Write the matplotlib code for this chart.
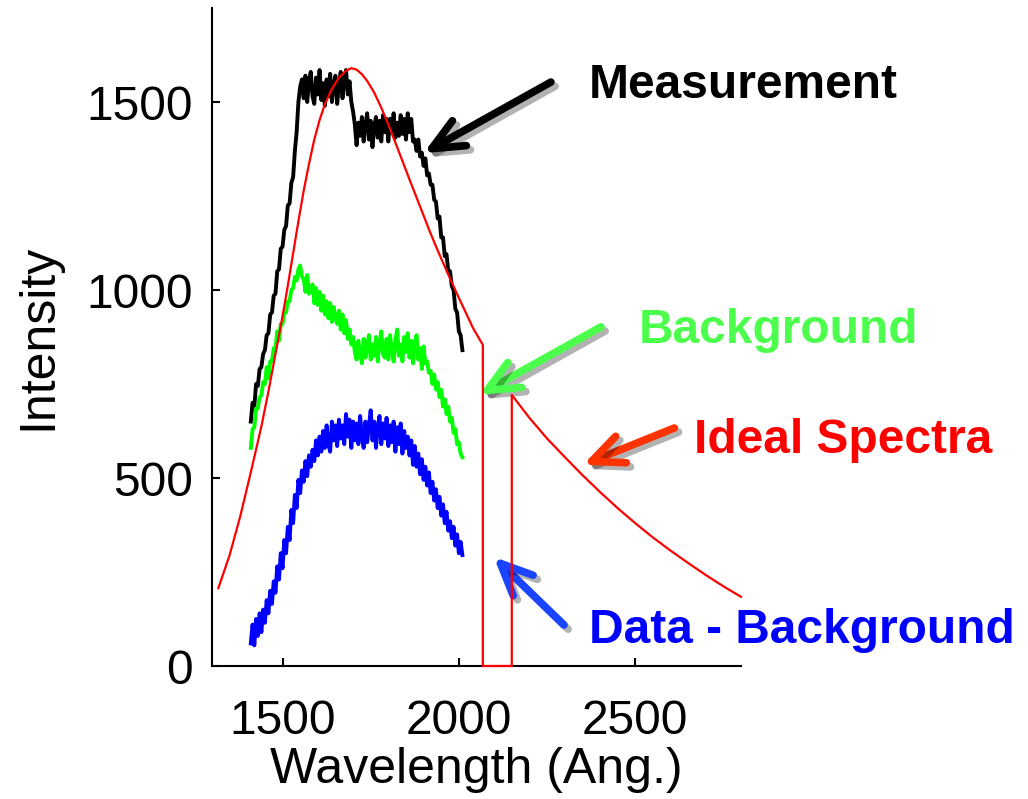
import numpy as np
import matplotlib
matplotlib.use("Agg")
import matplotlib.pyplot as plt
import matplotlib.patheffects as pe

plt.rcParams['font.family'] = ['Liberation Sans', 'DejaVu Sans']

# ---------------- data ----------------
wl_start = 1410
wl_step = 5

measurement = [
    650, 700, 690, 750, 745, 790, 795, 830, 840, 880,
    885, 935, 940, 985, 990, 1050, 1055, 1110, 1115, 1160,
    1170, 1225, 1230, 1285, 1300, 1370, 1420, 1500, 1540, 1560,
    1510, 1570, 1500, 1555, 1580, 1515, 1495, 1565, 1520, 1585,
    1505, 1550, 1490, 1560, 1515, 1575, 1500, 1545, 1570, 1495,
    1550, 1580, 1510, 1560, 1585, 1520, 1555, 1500, 1475, 1440,
    1385, 1445, 1410, 1460, 1395, 1440, 1470, 1400, 1450, 1380,
    1435, 1460, 1405, 1450, 1395, 1465, 1420, 1455, 1395, 1455,
    1420, 1470, 1405, 1445, 1410, 1465, 1415, 1455, 1400, 1470,
    1420, 1455, 1395, 1400, 1370, 1400, 1355, 1365, 1330, 1350,
    1305, 1310, 1280, 1280, 1240, 1235, 1190, 1195, 1140, 1140,
    1090, 1095, 1050, 1050, 1010, 1000, 950, 940, 890, 880,
    840,
]

background = [
    580, 630, 635, 685, 685, 715, 720, 755, 750, 795,
    765, 810, 810, 845, 845, 890, 865, 910, 910, 940,
    940, 970, 970, 1000, 1005, 1035, 1025, 1055, 1065, 1035,
    1030, 995, 1040, 990, 1000, 1015, 965, 1005, 960, 995,
    945, 985, 935, 970, 925, 965, 915, 955, 925, 910,
    945, 895, 935, 885, 920, 870, 895, 855, 875, 835,
    815, 865, 830, 805, 870, 820, 850, 880, 815, 855,
    825, 875, 810, 860, 890, 830, 820, 870, 815, 880,
    840, 810, 865, 895, 825, 855, 810, 875, 835, 885,
    820, 865, 805, 855, 880, 815, 845, 790, 850, 805,
    810, 780, 785, 750, 775, 735, 755, 715, 735, 690,
    710, 670, 690, 650, 660, 620, 630, 590, 595, 565,
    555,
]

difference = [
    60, 110, 55, 125, 80, 140, 90, 150, 115, 175,
    140, 200, 165, 225, 195, 265, 230, 300, 260, 335,
    300, 370, 335, 415, 380, 455, 420, 495, 460, 520,
    490, 545, 505, 560, 530, 575, 545, 600, 560, 610,
    570, 625, 580, 640, 590, 570, 650, 600, 640, 585,
    655, 605, 640, 590, 670, 610, 655, 580, 650, 600,
    645, 590, 665, 610, 580, 650, 595, 640, 680, 600,
    650, 580, 635, 665, 590, 645, 605, 660, 585, 640,
    595, 650, 570, 635, 590, 645, 565, 625, 580, 610,
    560, 600, 535, 585, 530, 565, 510, 550, 495, 530,
    480, 515, 460, 490, 440, 470, 420, 450, 400, 430,
    380, 410, 360, 385, 340, 370, 320, 350, 300, 330,
    295,
]

ideal_wl = [1318, 1350, 1380, 1410, 1440, 1460, 1480, 1500, 1515, 1530,
            1545, 1560, 1575, 1590, 1605, 1620, 1640, 1660, 1680, 1695,
            1710, 1725, 1740, 1760, 1780, 1800, 1820, 1840, 1860, 1880,
            1900, 1920, 1940, 1960, 1980, 2000, 2020, 2040, 2068,
            2068, 2150, 2150,
            2200, 2250, 2300, 2350, 2400, 2450, 2500, 2550, 2600, 2650,
            2700, 2750, 2800]
ideal_val = [207, 295, 398, 515, 637, 730, 830, 930, 1012, 1097,
             1183, 1264, 1335, 1400, 1452, 1494, 1535, 1565, 1583, 1590,
             1586, 1574, 1556, 1525, 1485, 1440, 1392, 1343, 1294, 1246,
             1198, 1150, 1105, 1062, 1020, 979, 939, 899, 854,
             0, 0, 721,
             660, 605, 556, 508, 463, 420, 380, 342, 307, 274,
             242, 212, 184]

x_ticks = [1500, 2000, 2500]
y_ticks = [0, 500, 1000, 1500]

# ---------------- figure ----------------
W, H = 1028, 799
fig = plt.figure(figsize=(W / 100, H / 100), dpi=100)
ax = fig.add_axes([212 / W, (H - 666) / H, (741 - 212) / W, (666 - 8) / H])

wl = wl_start + wl_step * np.arange(len(measurement))
ax.plot(wl, measurement, color='black', lw=2.8, zorder=3)
ax.plot(wl, background, color='#00FF00', lw=2.8, zorder=3)
ax.plot(wl, difference, color='#0000FF', lw=2.8, zorder=3)
ax.plot(ideal_wl, ideal_val, color='#FF0000', lw=1.6, zorder=5, clip_on=False)

ax.set_xlim(1300, 2800)
ax.set_ylim(0, 1750)
ax.set_xticks(x_ticks)
ax.set_yticks(y_ticks)
for s in ['top', 'right']:
    ax.spines[s].set_visible(False)
for s in ['left', 'bottom']:
    ax.spines[s].set_linewidth(1.5)
ax.tick_params(direction='in', length=6, width=1.5, labelsize=34.5)
ax.tick_params(axis='x', pad=24)
ax.tick_params(axis='y', pad=14)
ax.set_xlabel('Wavelength (Ang.)', fontsize=36, labelpad=2)
ax.set_ylabel('Intensity', fontsize=36, labelpad=18)

shadow = [pe.SimpleLineShadow(offset=(3, -3), shadow_color='black', alpha=0.3), pe.Normal()]


def arrow(head, tail, color):
    ax.annotate('', xy=head, xytext=tail, annotation_clip=False,
                arrowprops=dict(arrowstyle='->, head_length=0.6, head_width=0.27',
                                lw=5.5, color=color, shrinkA=0, shrinkB=0,
                                mutation_scale=38, capstyle='round',
                                joinstyle='round', path_effects=shadow))


arrow((1900, 1364), (2261, 1553), 'black')
arrow((2057, 721), (2403, 902), '#4DFF4D')
arrow((2352, 535), (2611, 633), '#FF3300')
arrow((2099, 290), (2298, 109), '#1A44FF')

tkw = dict(fontsize=34.5, fontweight='bold', ha='left', va='baseline', clip_on=False)
ax.text(2369, 1511, 'Measurement', color='black', **tkw)
ax.text(2511, 859, 'Background', color='#4DFF4D', **tkw)
ax.text(2668, 566, 'Ideal Spectra', color='#FF0000', **tkw)
ax.text(2369, 61, 'Data - Background', color='#0000FF', **tkw)

fig.savefig('out.png', dpi=100)
